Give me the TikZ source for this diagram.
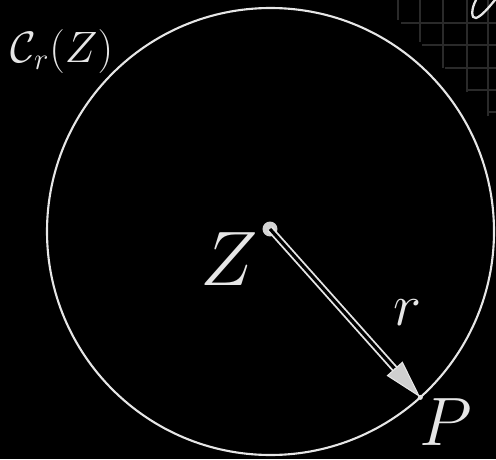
\documentclass[tikz,border=0pt]{standalone}
\usepackage{fix-cm}
\usepackage{amsmath}
\usepackage{amssymb}
\usetikzlibrary{
  arrows.meta,
  positioning,
  calc
}
\definecolor{cbBoard}{HTML}{000000}
\definecolor{cbChalk}{HTML}{E6E6E6}
\definecolor{cbDot}{HTML}{D4D4D4}
\definecolor{cbHead}{HTML}{CFCFCF}
\definecolor{cbGrid}{HTML}{2A2A2A}
\tikzset{
  chalkline/.style={draw=cbChalk, line width=1.2pt},
  centerdot/.style={circle, fill=cbDot, inner sep=0pt, minimum size=8.5pt},
  chalklabel/.style={text=cbChalk, inner sep=0pt},
  radiusline/.style={draw=cbChalk, line width=1.05pt, double=cbBoard, double distance=1.8pt},
  radiushead/.style={-{Triangle[length=22pt, width=12pt, fill=cbHead]}, draw=cbChalk, line width=0.6pt},
  gridline/.style={draw=cbGrid, line width=0.6pt}
}
\begin{document}
\begin{tikzpicture}[x=0.02cm, y=-0.02cm]
  \fill[cbBoard] (0,0) rectangle (496,459);
  \useasboundingbox (0,0) rectangle (496,459);
  \foreach \gx/\gy in {398/20, 420/42, 443/68, 467/92, 488/116}{
    \draw[gridline] (\gx,0) -- (\gx,\gy);
  }
  \foreach \hy/\hx in {23/401, 45/422, 68/445, 90/467, 112/488}{
    \draw[gridline] (\hx,\hy) -- (496,\hy);
  }
  \draw[chalkline, line width=1.3pt, line cap=round] (476,0) .. controls (471,9) and (471,19) .. (476,18) .. controls (482,16) and (489,7) .. (495,0);
  \coordinate (o) at (270.5,231.5);
  \draw[chalkline] (o) circle (223.5);
  \coordinate (p) at ($(o)+(420.3-270.5,397.4-231.5)$);
  \node[centerdot] (zc) at (270,229) {};
  \draw[radiusline, shorten >=20pt] (zc.center) -- (p);
  \draw[radiushead] ($(p)!22pt!(zc)$) -- (p);
  \fill[cbChalk] (p) circle (2.5);
  \node[chalklabel, font=\fontsize{44}{44}\selectfont] (zl) at (229,259) {$Z$};
  \node[chalklabel, font=\fontsize{34}{34}\selectfont] (rl) at (407,313) {$r$};
  \node[chalklabel, font=\fontsize{39}{39}\selectfont] (pl) at (446,422) {$P$};
  \node[chalklabel, font=\fontsize{25}{25}\selectfont] (cl) at (62,52) {$\mathcal{C}_r(Z)$};
\end{tikzpicture}
\end{document}
